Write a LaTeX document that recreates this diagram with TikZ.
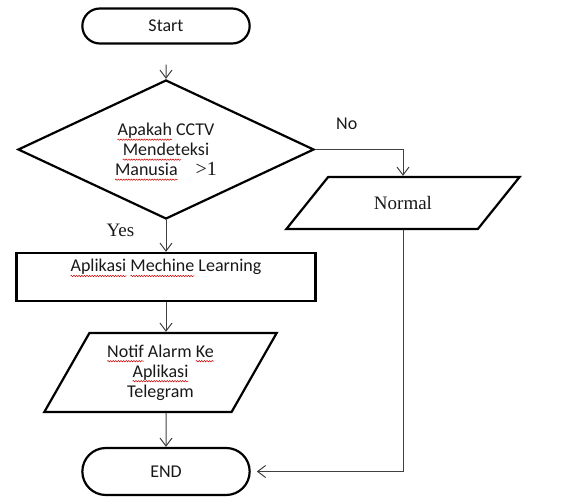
\documentclass[tikz,border=0pt]{standalone}
\usepackage{fontspec}
\setmainfont{Carlito}
\newfontfamily\serifface{Liberation Serif}
\usetikzlibrary{shapes.geometric,shapes.misc,arrows.meta,decorations.pathmorphing}
\newdimen\squigwd
\newcommand\squig[1]{\setbox0\hbox{#1}\global\squigwd=\wd0\rlap{\box0}\tikz[baseline=0pt]{\useasboundingbox (0pt,0pt) rectangle (\squigwd,0pt);
  \draw[red!80!black,line width=0.5pt,decorate,decoration={snake,amplitude=0.7pt,segment length=2.6pt}] (0pt,-4pt) -- (\squigwd,-4pt);}}

\begin{document}
\begin{tikzpicture}[x=1pt,y=-1pt,
  font=\fontsize{18}{20}\selectfont,
  every node/.style={text=black!90},
  terminal/.style={rounded rectangle,draw,line width=2.2pt,minimum width=174pt},
  decision/.style={diamond,draw,line width=2.2pt,minimum width=296pt,minimum height=139pt,aspect=2.1,inner sep=0pt,align=center},
  process/.style={rectangle,draw,line width=2.2pt,minimum width=299pt,minimum height=48pt},
  io/.style={trapezium,trapezium stretches=true,draw,line width=2.2pt,align=center},
  flow/.style={draw=black!75,line width=1pt,-{Straight Barb[length=8pt,width=12pt]}}]
\useasboundingbox (0,0) rectangle (563,497);
\node[terminal,minimum height=35pt] (start) at (166,26) {Start};
\node[decision] (dia) at (166,149.5) {\squig{Apakah} CCTV\\\squig{Mendet}eksi\\\squig{Manusia}\quad{\serifface\fontsize{20}{20}\selectfont >1}};
\node[io,trapezium left angle=48,trapezium right angle=132,minimum width=234pt,minimum height=52pt] (norm) at (403,203) {\serifface\fontsize{19}{20}\selectfont Normal};
\node[process] (app) at (166,277) {\raisebox{5pt}[0pt][0pt]{\squig{Aplikasi} \squig{Mechine} Learning}};
\node[io,trapezium left angle=60,trapezium right angle=120,minimum width=233pt,minimum height=79pt] (notif) at (160.5,372.5) {\squig{Notif} Alarm \squig{Ke}\\\squig{Aplikasi}\\Telegram};
\node[terminal,minimum height=47pt] (end) at (166,471.5) {END};
\draw[flow,shorten <=20pt] (start) -- (dia);
\draw[flow] (dia) -- node[pos=0.32,left=28pt]{\serifface\fontsize{19}{20}\selectfont Yes} (app);
\draw[flow] (dia) -| node[pos=0.18,above=16pt]{No} (norm);
\draw[flow] (app) -- (app |- notif.north);
\draw[flow] (end |- notif.south) -- (end);
\draw[flow,shorten >=6pt] (norm) |- (end);
\end{tikzpicture}
\end{document}
